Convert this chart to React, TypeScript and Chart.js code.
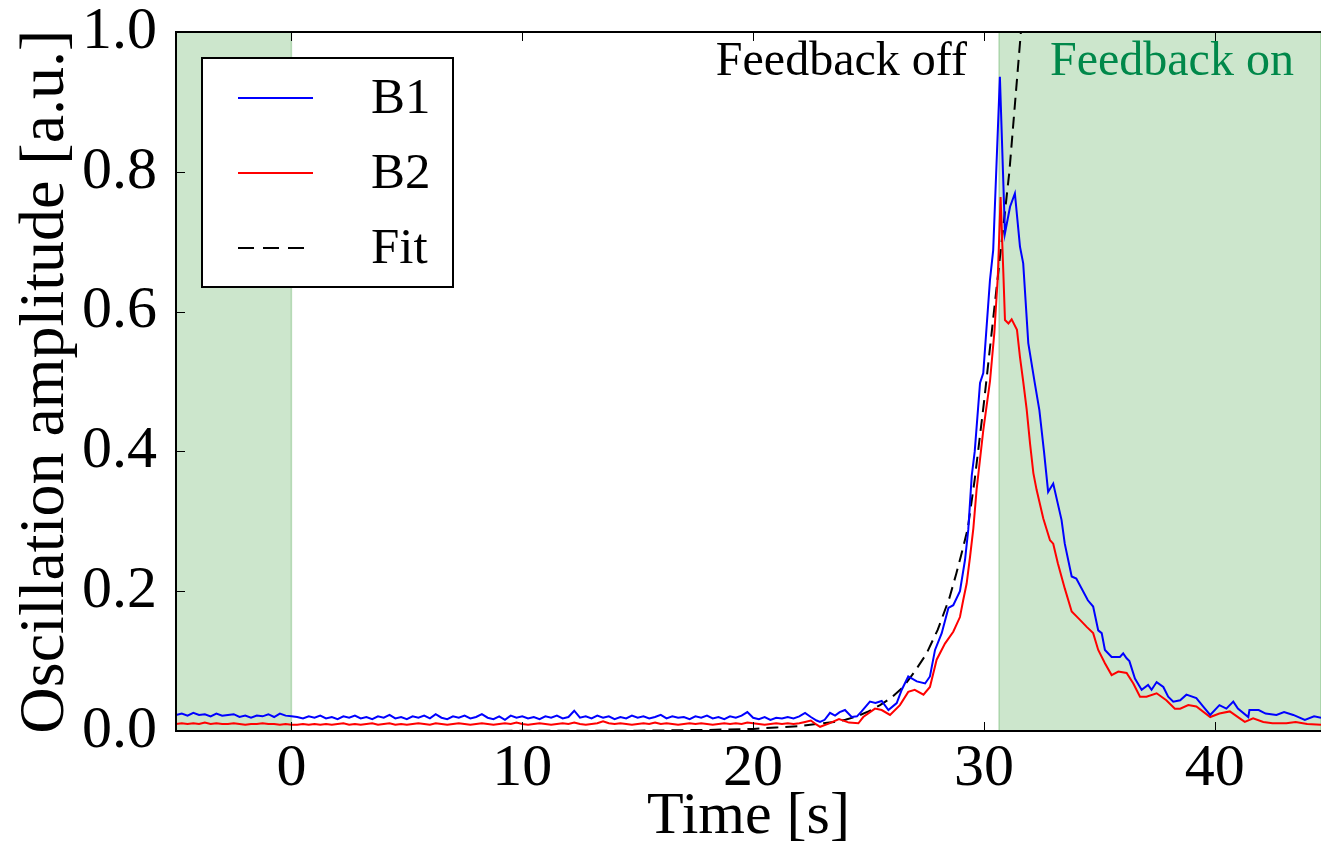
import React, { useEffect, useRef } from "react";
import { Chart, registerables } from "chart.js";

Chart.register(...registerables);

// ---------- data ----------
const baseStart = -5;
const baseStep = 0.25;

// B1 baseline samples, t = -5 ... 22.75 every 0.25 s
const b1Base = [
  0.023, 0.025, 0.022, 0.026, 0.023, 0.024, 0.021, 0.025, 0.022, 0.023, 0.024, 0.020, 0.022, 0.019, 0.022, 0.021, 0.024, 0.020, 0.025, 0.022, 0.021,
  0.020, 0.018, 0.021, 0.019, 0.022, 0.018, 0.020, 0.017, 0.021, 0.019, 0.022, 0.018, 0.020, 0.017, 0.021, 0.019, 0.023, 0.018, 0.020, 0.017,
  0.021, 0.019, 0.022, 0.018, 0.024, 0.019, 0.017, 0.021, 0.019, 0.022, 0.018, 0.020, 0.024, 0.019, 0.017, 0.021, 0.016, 0.022, 0.019, 0.021,
  0.018, 0.020, 0.017, 0.021, 0.019, 0.022, 0.018, 0.020, 0.029, 0.019, 0.021, 0.018, 0.022, 0.019, 0.021, 0.017, 0.020, 0.018, 0.022, 0.019,
  0.021, 0.018, 0.020, 0.023, 0.018, 0.021, 0.019, 0.020, 0.017, 0.021, 0.019, 0.022, 0.018, 0.020, 0.017, 0.021, 0.019, 0.022, 0.027, 0.019,
  0.017, 0.020, 0.016, 0.019, 0.018, 0.020, 0.018, 0.021, 0.026, 0.020, 0.015,
];

// B2 baseline samples, same time grid
const b2Base = [
  0.010, 0.011, 0.010, 0.011, 0.010, 0.012, 0.010, 0.011, 0.010, 0.010, 0.011, 0.010, 0.009, 0.010, 0.010, 0.011, 0.010, 0.010, 0.009, 0.010, 0.009,
  0.009, 0.010, 0.009, 0.010, 0.009, 0.010, 0.009, 0.010, 0.011, 0.009, 0.010, 0.009, 0.010, 0.011, 0.009, 0.010, 0.011, 0.009, 0.010, 0.009,
  0.010, 0.011, 0.010, 0.009, 0.011, 0.010, 0.009, 0.010, 0.011, 0.010, 0.009, 0.010, 0.011, 0.010, 0.009, 0.010, 0.011, 0.010, 0.012, 0.010,
  0.009, 0.010, 0.011, 0.010, 0.009, 0.010, 0.011, 0.010, 0.012, 0.010, 0.009, 0.010, 0.011, 0.014, 0.011, 0.010, 0.011, 0.010, 0.009, 0.010,
  0.011, 0.010, 0.012, 0.010, 0.011, 0.010, 0.009, 0.010, 0.011, 0.010, 0.011, 0.010, 0.009, 0.010, 0.011, 0.010, 0.011, 0.010, 0.012, 0.011,
  0.010, 0.009, 0.010, 0.011, 0.010, 0.011, 0.010, 0.011, 0.013, 0.015, 0.009,
];

// B1 from the onset of the instability onwards
const b1PeakTime = [
  22.9, 23.1, 23.33, 23.55, 23.75, 23.98, 24.27, 24.5, 24.7, 25.06, 25.3, 25.57, 25.86, 26.22, 26.44, 26.72, 27.09, 27.45, 27.66, 27.88,
  28.17, 28.46, 28.67, 28.96, 29.18, 29.32, 29.47, 29.6, 29.83, 29.97, 30.26, 30.4, 30.69, 30.91, 31.13, 31.34, 31.56, 31.7, 31.92, 32.2,
  32.4, 32.6, 32.78, 33.0, 33.36, 33.5, 33.8, 34.0, 34.5, 34.73, 34.95, 35.1, 35.24, 35.53, 35.89, 36.03, 36.18, 36.3, 36.54, 36.83,
  37.11, 37.26, 37.48, 37.77, 37.98, 38.2, 38.5, 38.77, 39.2, 39.5, 39.8, 40.2, 40.5, 40.8, 41.0, 41.45, 41.5, 41.9, 42.2, 42.67,
  43.0, 43.4, 43.9, 44.3, 44.6,
];
const b1PeakValue = [
  0.013, 0.016, 0.026, 0.022, 0.027, 0.030, 0.020, 0.021, 0.028, 0.042, 0.040, 0.043, 0.030, 0.040, 0.059, 0.078, 0.071, 0.068, 0.078, 0.116,
  0.140, 0.176, 0.180, 0.200, 0.245, 0.288, 0.365, 0.400, 0.498, 0.512, 0.645, 0.688, 0.936, 0.712, 0.750, 0.769, 0.693, 0.669, 0.555, 0.498,
  0.459, 0.400, 0.342, 0.354, 0.302, 0.268, 0.221, 0.218, 0.187, 0.178, 0.144, 0.140, 0.116, 0.106, 0.106, 0.111, 0.104, 0.100, 0.075, 0.059,
  0.066, 0.059, 0.070, 0.063, 0.049, 0.042, 0.044, 0.052, 0.047, 0.035, 0.023, 0.037, 0.032, 0.042, 0.032, 0.020, 0.030, 0.030, 0.025, 0.023,
  0.027, 0.023, 0.016, 0.021, 0.019,
];

// B2 from the onset of the instability onwards
const b2PeakTime = [
  22.9, 23.3, 23.72, 24.15, 24.56, 24.77, 25.28, 25.57, 25.93, 26.36, 26.72, 27.0, 27.38, 27.66, 27.95, 28.31, 28.67, 28.96, 29.1, 29.25,
  29.4, 29.54, 29.68, 29.97, 30.26, 30.45, 30.6, 30.72, 30.84, 30.91, 31.06, 31.2, 31.43, 31.56, 31.7, 31.85, 32.0, 32.14, 32.28, 32.57,
  32.86, 33.0, 33.2, 33.5, 33.8, 34.16, 34.45, 34.73, 34.95, 35.24, 35.53, 35.82, 36.18, 36.47, 36.76, 37.04, 37.48, 37.9, 38.27, 38.5,
  38.85, 39.2, 39.8, 40.2, 40.65, 41.08, 41.3, 41.66, 42.1, 42.5, 43.1, 43.5, 44.0, 44.6,
];
const b2PeakValue = [
  0.006, 0.011, 0.017, 0.012, 0.011, 0.020, 0.032, 0.030, 0.023, 0.037, 0.056, 0.059, 0.052, 0.063, 0.102, 0.125, 0.142, 0.163, 0.187, 0.211,
  0.250, 0.290, 0.345, 0.430, 0.500, 0.570, 0.650, 0.764, 0.655, 0.588, 0.583, 0.589, 0.574, 0.535, 0.500, 0.460, 0.410, 0.369, 0.345, 0.304,
  0.273, 0.268, 0.240, 0.204, 0.171, 0.159, 0.149, 0.140, 0.116, 0.097, 0.080, 0.085, 0.083, 0.068, 0.049, 0.049, 0.054, 0.044, 0.032, 0.032,
  0.037, 0.035, 0.020, 0.025, 0.028, 0.018, 0.013, 0.018, 0.013, 0.011, 0.011, 0.013, 0.010, 0.009,
];

// exponential fit (dashed)
const fitTime = [
  0, 5, 10, 15, 18, 20, 21, 22, 23, 23.5, 24, 24.5, 25, 25.5, 26, 26.5, 27, 27.5, 28, 28.5, 28.8, 29, 29.3, 29.6, 30, 30.3, 30.7, 31.1, 31.4, 31.6, 31.8,
];
const fitValue = [
  0.0, 0.0, 0.0002, 0.0005, 0.0015, 0.003, 0.005, 0.007, 0.011, 0.013, 0.016, 0.021, 0.028, 0.037, 0.048, 0.063, 0.085, 0.11, 0.145, 0.19, 0.225, 0.25, 0.29, 0.36, 0.47, 0.56, 0.68, 0.8, 0.92, 1.0, 1.1,
];

const xTicks = [0, 10, 20, 30, 40];
const yTicks = [0, 0.2, 0.4, 0.6, 0.8, 1.0];
const xRange = [-5, 44.6];
const yRange = [0, 1];

// shaded (feedback on) intervals
const shadedStart = [-5, 30.65];
const shadedEnd = [0, 44.6];

// annotations
const annotationText = ["Feedback off", "Feedback on"];
const annotationX = [29.26, 32.86];
const annotationY = [0.938, 0.938];

const seriesLabels = ["B1", "B2", "Fit"];

// ---------- styling ----------
const FONT = '"Liberation Serif", "Times New Roman", Times, serif';
const SHADE = "#cce6cc";
const GREEN_TEXT = "#00884a";

const toPoints = (xs: number[], ys: number[]) => xs.map((x, i) => ({ x, y: ys[i] }));

const b1Points = [...b1Base.map((v, i) => ({ x: baseStart + i * baseStep, y: v })), ...toPoints(b1PeakTime, b1PeakValue)];
const b2Points = [...b2Base.map((v, i) => ({ x: baseStart + i * baseStep, y: v })), ...toPoints(b2PeakTime, b2PeakValue)];
const fitPoints = toPoints(fitTime, fitValue);

const backgroundPlugin = {
  id: "shading",
  beforeDatasetsDraw(chart: any) {
    const { ctx, chartArea } = chart;
    const xs = chart.scales.x;
    ctx.save();
    ctx.beginPath();
    ctx.rect(chartArea.left, chartArea.top, chartArea.right - chartArea.left, chartArea.bottom - chartArea.top);
    ctx.clip();
    for (let i = 0; i < shadedStart.length; i++) {
      const x1 = xs.getPixelForValue(shadedStart[i]);
      const x2 = xs.getPixelForValue(shadedEnd[i]);
      ctx.fillStyle = SHADE;
      ctx.fillRect(x1, chartArea.top, x2 - x1, chartArea.bottom - chartArea.top);
      ctx.strokeStyle = "rgba(0,128,0,0.22)";
      ctx.lineWidth = 1.5;
      ctx.beginPath();
      ctx.moveTo(x1, chartArea.top);
      ctx.lineTo(x1, chartArea.bottom);
      ctx.moveTo(x2, chartArea.top);
      ctx.lineTo(x2, chartArea.bottom);
      ctx.stroke();
    }
    ctx.restore();
  },
};

const framePlugin = {
  id: "frame",
  afterDatasetsDraw(chart: any) {
    const { ctx, chartArea } = chart;
    const xs = chart.scales.x;
    const ys = chart.scales.y;
    const { left, right, top, bottom } = chartArea;
    ctx.save();

    // annotations
    ctx.font = `48px ${FONT}`;
    ctx.textBaseline = "alphabetic";
    ctx.fillStyle = "#000";
    ctx.textAlign = "right";
    ctx.fillText(annotationText[0], xs.getPixelForValue(annotationX[0]), ys.getPixelForValue(annotationY[0]));
    ctx.fillStyle = GREEN_TEXT;
    ctx.textAlign = "left";
    ctx.fillText(annotationText[1], xs.getPixelForValue(annotationX[1]), ys.getPixelForValue(annotationY[1]));

    // inward ticks
    ctx.strokeStyle = "#000";
    ctx.lineWidth = 1;
    ctx.beginPath();
    xTicks.forEach((t) => {
      const px = Math.round(xs.getPixelForValue(t)) + 0.5;
      ctx.moveTo(px, bottom);
      ctx.lineTo(px, bottom - 9);
      ctx.moveTo(px, top);
      ctx.lineTo(px, top + 9);
    });
    yTicks.forEach((t) => {
      const py = Math.round(ys.getPixelForValue(t)) + 0.5;
      ctx.moveTo(left, py);
      ctx.lineTo(left + 9, py);
    });
    ctx.stroke();

    // frame (left, top, bottom)
    ctx.lineWidth = 2;
    ctx.beginPath();
    ctx.moveTo(left, top);
    ctx.lineTo(right + 2, top);
    ctx.moveTo(left, top - 1);
    ctx.lineTo(left, bottom + 1);
    ctx.moveTo(left - 1, bottom);
    ctx.lineTo(right + 2, bottom);
    ctx.stroke();

    // legend
    const bx = 202, by = 58, bw = 251, bh = 229;
    ctx.fillStyle = "#fff";
    ctx.fillRect(bx, by, bw, bh);
    ctx.lineWidth = 2;
    ctx.strokeStyle = "#000";
    ctx.strokeRect(bx, by, bw, bh);
    const rowY = [98, 173, 248];
    chart.data.datasets.forEach((ds: any, i: number) => {
      ctx.save();
      ctx.strokeStyle = ds.borderColor;
      ctx.lineWidth = 2;
      if (ds.borderDash) ctx.setLineDash([16, 9]);
      ctx.beginPath();
      ctx.moveTo(238, rowY[i]);
      ctx.lineTo(ds.borderDash ? 305 : 313, rowY[i]);
      ctx.stroke();
      ctx.restore();
      ctx.fillStyle = "#000";
      ctx.font = `51px ${FONT}`;
      ctx.textAlign = "left";
      ctx.textBaseline = "middle";
      ctx.fillText(ds.label, 371, rowY[i] + 2);
    });

    ctx.restore();
  },
};

export default function App() {
  const canvasRef = useRef<HTMLCanvasElement | null>(null);

  useEffect(() => {
    const canvas = canvasRef.current;
    if (!canvas) return;
    const chart = new Chart(canvas, {
      type: "line",
      data: {
        datasets: [
          { label: seriesLabels[0], data: b1Points, borderColor: "#0000ff", borderWidth: 2, pointRadius: 0, tension: 0, fill: false },
          { label: seriesLabels[1], data: b2Points, borderColor: "#ff0000", borderWidth: 2, pointRadius: 0, tension: 0, fill: false },
          { label: seriesLabels[2], data: fitPoints, borderColor: "#000000", borderWidth: 2, borderDash: [12, 7], pointRadius: 0, tension: 0, fill: false },
        ],
      },
      options: {
        animation: false,
        responsive: false,
        maintainAspectRatio: false,
        layout: { padding: { top: 32, left: 0, right: 0, bottom: 0 } },
        plugins: { legend: { display: false }, tooltip: { enabled: false } },
        scales: {
          x: {
            type: "linear",
            min: xRange[0],
            max: xRange[1],
            afterBuildTicks: (s: any) => {
              s.ticks = xTicks.map((v) => ({ value: v }));
            },
            afterFit: (s: any) => {
              s.height = 119;
              s.paddingLeft = 0;
              s.paddingRight = 0;
            },
            grid: { display: false },
            border: { display: false },
            ticks: {
              color: "#000",
              font: { family: FONT, size: 60, lineHeight: 1 },
              padding: 0,
              maxRotation: 0,
              autoSkip: false,
              callback: (v: any) => String(v),
            },
            title: {
              display: true,
              text: "Time [s]",
              color: "#000",
              font: { family: FONT, size: 60, lineHeight: 1.2 },
              padding: { top: 0, bottom: -3 },
            },
          },
          y: {
            type: "linear",
            min: yRange[0],
            max: yRange[1],
            afterBuildTicks: (s: any) => {
              s.ticks = yTicks.map((v) => ({ value: v }));
            },
            afterFit: (s: any) => {
              s.width = 176;
              s.paddingTop = 0;
              s.paddingBottom = 0;
            },
            grid: { display: false },
            border: { display: false },
            ticks: {
              color: "#000",
              font: { family: FONT, size: 60, lineHeight: 1 },
              padding: 11,
              autoSkip: false,
              callback: (v: any) => Number(v).toFixed(1),
            },
            title: {
              display: true,
              text: "Oscillation amplitude [a.u.]",
              color: "#000",
              font: { family: FONT, size: 64, lineHeight: 1.2 },
              padding: { top: 8, bottom: 0 },
            },
          },
        },
      },
      plugins: [backgroundPlugin, framePlugin],
    });
    return () => chart.destroy();
  }, []);

  return (
    <div style={{ position: "fixed", left: 0, top: 0, width: 1321, height: 850, background: "#fff" }}>
      <canvas ref={canvasRef} width={1321} height={850} style={{ display: "block" }} />
    </div>
  );
}
